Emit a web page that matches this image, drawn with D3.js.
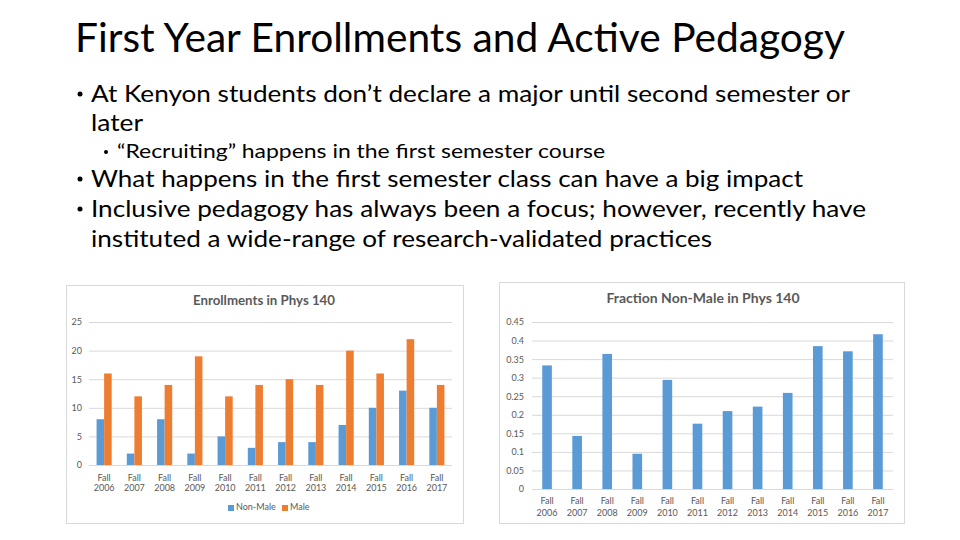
<!DOCTYPE html>
<html>
<head>
<meta charset="utf-8">
<script src="https://cdn.jsdelivr.net/npm/d3@7"></script>
<style>
  body { margin: 0; background: #fff; }
  svg { display: block; }
</style>
</head>
<body>
<svg width="960" height="540"></svg>
<script>
// Datos
const years = ["2006", "2007", "2008", "2009", "2010", "2011", "2012", "2013", "2014", "2015", "2016", "2017"];
const nonMale = [8, 2, 8, 2, 5, 3, 4, 4, 7, 10, 13, 10];
const male = [16, 12, 14, 19, 12, 14, 15, 14, 20, 16, 22, 14];
const fraction = [0.333, 0.143, 0.364, 0.095, 0.294, 0.176, 0.21, 0.222, 0.259, 0.385, 0.371, 0.417];
const enrollTicks = [0, 5, 10, 15, 20, 25];
const fractionTicks = [0, 0.05, 0.1, 0.15, 0.2, 0.25, 0.3, 0.35, 0.4, 0.45];
const seriesNames = ["Non-Male", "Male"];

// Texto de la diapositiva
const title = "First Year Enrollments and Active Pedagogy";
const lines = [
  { text: "At Kenyon students don\u2019t declare a major until second semester or", bullet: true, level: 0, y: 102, w: 759 },
  { text: "later", bullet: false, level: 0, y: 131, w: 52 },
  { text: "\u201cRecruiting\u201d happens in the first semester course", bullet: true, level: 1, y: 158, w: 488 },
  { text: "What happens in the first semester class can have a big impact", bullet: true, level: 0, y: 187, w: 712 },
  { text: "Inclusive pedagogy has always been a focus; however, recently have", bullet: true, level: 0, y: 217, w: 775 },
  { text: "instituted a wide-range of research-validated practices", bullet: false, level: 0, y: 247, w: 621 }
];

const blue = "#5b9bd5", orange = "#ed7d31", grid = "#d9d9d9", gray = "#595959";
const font = "Lato, 'Open Sans', sans-serif";

const svg = d3.select("svg").style("font-family", font);

// Título
svg.append("text")
  .attr("x", 75).attr("y", 52)
  .attr("font-size", 40)
  .attr("fill", "#000")
  .attr("textLength", 770).attr("lengthAdjust", "spacingAndGlyphs")
  .text(title);

// Viñetas
const bl = svg.append("g").selectAll("g").data(lines).enter().append("g");
bl.filter(d => d.bullet).append("circle")
  .attr("cx", d => d.level ? 106 : 80)
  .attr("cy", d => d.y - (d.level ? 6 : 8))
  .attr("r", d => d.level ? 2 : 2.5)
  .attr("fill", "#000");
bl.append("text")
  .attr("x", d => d.level ? 117 : 91)
  .attr("y", d => d.y)
  .attr("font-size", d => d.level ? 19 : 24)
  .attr("textLength", d => d.w).attr("lengthAdjust", "spacingAndGlyphs")
  .text(d => d.text);

// ---------- Gráfico 1: Enrollments ----------
const g1 = svg.append("g");
g1.append("rect").attr("x", 66.5).attr("y", 285.5).attr("width", 397).attr("height", 238)
  .attr("fill", "#fff").attr("stroke", grid);

const x1 = d3.scaleBand().domain(years).range([89, 452]).paddingInner(0.5).paddingOuter(0.25);
const xs = d3.scaleBand().domain(seriesNames).range([0, x1.bandwidth()]);
const y1 = d3.scaleLinear().domain([0, 25]).range([465, 322]);

g1.append("text").attr("x", 264).attr("y", 302).attr("text-anchor", "middle")
  .attr("dominant-baseline", "middle").attr("font-size", 13).attr("font-weight", "bold")
  .attr("textLength", 142).attr("lengthAdjust", "spacingAndGlyphs")
  .attr("fill", gray).text("Enrollments in Phys 140");

const ax1 = g1.append("g").attr("transform", "translate(89,0)")
  .call(d3.axisLeft(y1).tickValues(enrollTicks).tickSize(-(452 - 89)).tickPadding(7));
ax1.select(".domain").remove();
ax1.selectAll("line").attr("stroke", grid);
ax1.selectAll("text").attr("fill", gray).attr("font-size", 9).attr("font-family", font);

years.forEach((yr, i) => {
  const gx = g1.append("g").attr("transform", `translate(${x1(yr)},0)`);
  gx.append("rect").attr("x", xs("Non-Male")).attr("y", y1(nonMale[i]))
    .attr("width", xs.bandwidth()).attr("height", y1(0) - y1(nonMale[i])).attr("fill", blue);
  gx.append("rect").attr("x", xs("Male")).attr("y", y1(male[i]))
    .attr("width", xs.bandwidth()).attr("height", y1(0) - y1(male[i])).attr("fill", orange);
  const cx = x1.bandwidth() / 2;
  gx.append("text").attr("x", cx).attr("y", 481).attr("text-anchor", "middle")
    .attr("font-size", 9).attr("fill", gray).text("Fall");
  gx.append("text").attr("x", cx).attr("y", 491).attr("text-anchor", "middle")
    .attr("font-size", 9).attr("fill", gray).text(yr);
});

// Leyenda
const leg = g1.append("g").attr("transform", "translate(0,508)");
[[228, "Non-Male", blue], [282, "Male", orange]].forEach(([lx, name, c]) => {
  leg.append("rect").attr("x", lx).attr("y", -3).attr("width", 6).attr("height", 6).attr("fill", c);
  leg.append("text").attr("x", lx + 8).attr("y", 0).attr("dominant-baseline", "middle")
    .attr("font-size", 9).attr("fill", gray).text(name);
});

// ---------- Gráfico 2: Fraction Non-Male ----------
const g2 = svg.append("g");
g2.append("rect").attr("x", 499.5).attr("y", 282.5).attr("width", 405).attr("height", 241)
  .attr("fill", "#fff").attr("stroke", grid);

const x2 = d3.scaleBand().domain(years).range([532, 893]).paddingInner(0.68).paddingOuter(0.34);
const y2 = d3.scaleLinear().domain([0, 0.45]).range([489, 322]);

g2.append("text").attr("x", 703).attr("y", 300).attr("text-anchor", "middle")
  .attr("dominant-baseline", "middle").attr("font-size", 13).attr("font-weight", "bold")
  .attr("textLength", 193).attr("lengthAdjust", "spacingAndGlyphs")
  .attr("fill", gray).text("Fraction Non-Male in Phys 140");

const ax2 = g2.append("g").attr("transform", "translate(532,0)")
  .call(d3.axisLeft(y2).tickValues(fractionTicks).tickFormat(d => String(+d.toFixed(2)))
    .tickSize(-(893 - 532)).tickPadding(8));
ax2.select(".domain").remove();
ax2.selectAll("line").attr("stroke", grid);
ax2.selectAll("text").attr("fill", gray).attr("font-size", 9).attr("font-family", font);

g2.append("g").selectAll("rect").data(years).enter().append("rect")
  .attr("x", d => x2(d)).attr("y", (d, i) => y2(fraction[i]))
  .attr("width", x2.bandwidth()).attr("height", (d, i) => y2(0) - y2(fraction[i]))
  .attr("fill", blue);

const lab2 = g2.append("g").selectAll("g").data(years).enter().append("g")
  .attr("transform", d => `translate(${x2(d) + x2.bandwidth() / 2},0)`);
lab2.append("text").attr("y", 504).attr("text-anchor", "middle")
  .attr("font-size", 9).attr("fill", gray).text("Fall");
lab2.append("text").attr("y", 516).attr("text-anchor", "middle")
  .attr("font-size", 9).attr("fill", gray).text(d => d);
</script>
</body>
</html>
